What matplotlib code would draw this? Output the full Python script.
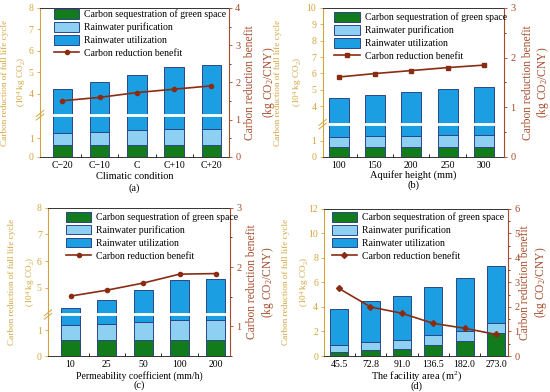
import numpy as np
import matplotlib
matplotlib.use('Agg')
import matplotlib.pyplot as plt
from matplotlib.patches import Patch
from matplotlib.lines import Line2D

plt.rcParams['font.family'] = 'Liberation Serif'
plt.rcParams['font.size'] = 7
plt.rcParams['mathtext.fontset'] = 'custom'
plt.rcParams['mathtext.rm'] = 'Liberation Serif'
plt.rcParams['mathtext.it'] = 'Liberation Serif:italic'
plt.rcParams['mathtext.bf'] = 'Liberation Serif:bold'

# ---- data (10^4 kg CO2 and kg CO2/CNY) ----
cats_a = ['C\u221220', 'C\u221210', 'C', 'C+10', 'C+20']
green_a = [0.61, 0.61, 0.61, 0.61, 0.61]
purif_a = [0.65, 0.69, 0.83, 0.89, 0.89]
util_a = [2.96, 3.25, 3.46, 3.77, 3.83]
benefit_a = [1.51, 1.60, 1.73, 1.82, 1.91]

cats_b = ['100', '150', '200', '250', '300']
green_b = [0.60, 0.60, 0.60, 0.60, 0.60]
purif_b = [0.64, 0.68, 0.70, 0.74, 0.76]
util_b = [3.28, 3.41, 3.56, 3.70, 3.84]
benefit_b = [1.61, 1.68, 1.74, 1.80, 1.85]

cats_c = ['10', '25', '50', '100', '200']
green_c = [0.60, 0.60, 0.60, 0.60, 0.60]
purif_c = [0.59, 0.65, 0.70, 0.78, 0.78]
util_c = [3.07, 3.30, 3.60, 3.91, 3.95]
benefit_c = [1.51, 1.61, 1.73, 1.88, 1.89]

cats_d = ['45.5', '72.8', '91.0', '136.5', '182.0', '273.0']
green_d = [0.33, 0.52, 0.60, 0.90, 1.22, 1.85]
purif_d = [0.57, 0.62, 0.70, 0.78, 0.85, 0.87]
util_d = [2.90, 3.32, 3.56, 3.97, 4.29, 4.59]
benefit_d = [2.75, 2.00, 1.74, 1.33, 1.13, 0.88]

labels = ['Carbon sequestration of green space', 'Rainwater purification',
          'Rainwater utilization', 'Carbon reduction benefit']

GREEN = '#127c1c'
LIGHT = '#8ed0f2'
BLUE = '#1c9fe2'
EDGE = '#2b4688'
LINE = '#8a2c12'
GOLD = '#d2a53a'
RED = '#a64a2a'


def make_break(lo_top, hi_bot, top, f):
    def fwd(y):
        y = np.asarray(y, float)
        low = y / lo_top * f
        high = f + (y - hi_bot) / (top - hi_bot) * (1 - f)
        return np.where(y <= lo_top, low, np.where(y >= hi_bot, high, f))

    def inv(u):
        u = np.asarray(u, float)
        return np.where(u <= f, u / f * lo_top,
                        hi_bot + (u - f) / (1 - f) * (top - hi_bot))
    return fwd, inv


def draw_panel(fig, pos, cats, green, purif, util, benefit, ytop, yticks,
               rlim, rticks, brk, xlim, width, xlabel, letter, leg_xy, marker,
               lab_x, lab_sp, xl_size=7.5, letter_y=-0.2, xpad=1):
    ax = fig.add_axes(pos)
    x = np.arange(len(cats))
    green = np.array(green)
    purif = np.array(purif)
    util = np.array(util)
    ax.bar(x, green, width, color=GREEN, edgecolor=EDGE, lw=0.7, zorder=1)
    ax.bar(x, purif, width, bottom=green, color=LIGHT, edgecolor=EDGE, lw=0.7, zorder=1)
    ax.bar(x, util, width, bottom=green + purif, color=BLUE, edgecolor=EDGE, lw=0.7, zorder=1)
    if brk is not None:
        lo_top, hi_bot, f = brk
        ax.set_yscale('function', functions=make_break(lo_top, hi_bot, ytop, f))
    ax.set_ylim(0, ytop)
    ax.set_yticks(yticks)
    ax.set_yticklabels([str(t) for t in yticks])
    ax.set_xlim(*xlim)
    ax.set_xticks(x)
    ax.set_xticklabels(cats)
    ax.set_xticks(x[:-1] + 0.5, minor=True)
    ax.tick_params(axis='x', which='major', length=0, pad=3)
    ax.tick_params(axis='x', which='minor', length=2, direction='in')
    ax.tick_params(axis='y', colors=GOLD, length=2.5, width=0.6, pad=2)
    ax.tick_params(axis='y', which='minor', length=0)
    ax.spines['left'].set_color(GOLD)
    ax.spines['right'].set_visible(False)
    for s in ['top', 'bottom']:
        ax.spines[s].set_linewidth(0.7)
        ax.spines[s].set_color('#333333')
    ax.set_xlabel(xlabel, fontsize=xl_size, labelpad=xpad)
    ax.set_ylabel('Carbon reduction of full life cycle\n(10$^4$ kg CO$_2$)',
                  color=GOLD, fontsize=6.6, linespacing=lab_sp[0])
    ax.yaxis.label.set_va('center')
    ax.yaxis.set_label_coords(lab_x[0], 0.5)
    ax.text(0.5, letter_y, letter, transform=ax.transAxes, ha='center', va='center',
            fontsize=7.5)

    if brk is not None:
        f = brk[2]
        ax.axhline(brk[1], color='white', lw=2, zorder=2)
        for dy in (-0.012, 0.012):
            ax.plot([-0.02, 0.02], [f + dy - 0.02, f + dy + 0.02], transform=ax.transAxes,
                    color=GOLD, lw=0.7, clip_on=False, zorder=5)

    tw = ax.twinx()
    tw.plot(x, benefit, color=LINE, lw=1.2, marker=marker, ms=3, zorder=3)
    tw.set_ylim(*rlim)
    tw.set_yticks(rticks)
    tw.set_yticks(np.arange(rlim[0], rlim[1] + 0.01, 0.5), minor=True)
    tw.tick_params(axis='y', colors=RED, length=2.5, width=0.6, pad=2, labelsize=7.5)
    tw.tick_params(axis='y', which='minor', length=1.5, width=0.5)
    for s in ['left', 'top', 'bottom']:
        tw.spines[s].set_visible(False)
    tw.spines['right'].set_color(RED)
    tw.set_ylabel('Carbon reduction benefit\n(kg CO$_2$/CNY)', color=RED,
                  fontsize=8.3, linespacing=lab_sp[1])
    tw.yaxis.label.set_va('center')
    tw.yaxis.set_label_coords(lab_x[1], 0.5)

    handles = [Patch(facecolor=GREEN, edgecolor=EDGE, lw=0.7),
               Patch(facecolor=LIGHT, edgecolor=EDGE, lw=0.7),
               Patch(facecolor=BLUE, edgecolor=EDGE, lw=0.7),
               Line2D([], [], color=LINE, lw=1.2, marker=marker, ms=3)]
    tw.legend(handles, labels, loc='upper left', bbox_to_anchor=leg_xy, frameon=False,
              fontsize=7, handlelength=2.6, handleheight=1.1, labelspacing=0.3,
              handletextpad=0.5, borderpad=0, borderaxespad=0)
    return ax, tw


fig = plt.figure(figsize=(5.5, 3.92), dpi=100)

draw_panel(fig, [0.0727, 0.5995, 0.3436, 0.3801], cats_a, green_a, purif_a, util_a, benefit_a,
           8, [0, 1, 4, 5, 6, 7, 8], (0, 4), [0, 1, 2, 3, 4], (2.2, 3.0, 0.28),
           (-0.6, 4.47), 0.52, 'Climatic condition', '(a)', (0.075, 0.99), 'o',
           (-0.135, 1.165), (1.75, 1.45), letter_y=-0.208)

draw_panel(fig, [0.5867, 0.5995, 0.3296, 0.3801], cats_b, green_b, purif_b, util_b, benefit_b,
           10, [0, 1, 4, 5, 6, 7, 8, 9, 10], (0, 3), [0, 1, 2, 3], (2.0, 2.9, 0.22),
           (-0.44, 4.55), 0.55, 'Aquifer height (mm)', '(b)', (0.065, 0.97), 's',
           (-0.185, 1.178), (1.95, 1.1), letter_y=-0.19, xpad=0)

draw_panel(fig, [0.0873, 0.0918, 0.3309, 0.3783], cats_c, green_c, purif_c, util_c, benefit_c,
           8, [0, 1, 5, 6, 7, 8], (0.5, 3), [1, 2, 3], (1.6, 4.0, 0.28),
           (-0.62, 4.39), 0.53, 'Permeability coefficient (mm/h)', '(c)', (0.10, 0.97), 'o',
           (-0.138, 1.17), (1.9, 1.2), xl_size=7, letter_y=-0.195)

draw_panel(fig, [0.5896, 0.0918, 0.3345, 0.3758], cats_d, green_d, purif_d, util_d, benefit_d,
           12, [0, 2, 4, 6, 8, 10, 12], (0, 6), [0, 1, 2, 3, 4, 5, 6], None,
           (-0.47, 5.39), 0.58, 'The facility area (m$^2$)', '(d)', (0.04, 0.975), 'D',
           (-0.15, 1.14), (1.9, 1.25), letter_y=-0.205, xpad=0)

fig.savefig('out.png', dpi=100)
